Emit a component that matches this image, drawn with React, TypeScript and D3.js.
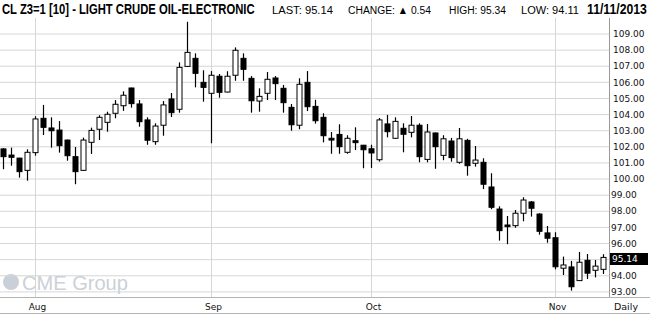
import React, { useLayoutEffect, useRef, useState } from "react";
import * as d3 from "d3";

const dates: string[] = [
  "07-26","07-29","07-30","07-31",
  "08-01","08-02","08-05","08-06","08-07","08-08","08-09","08-12","08-13","08-14","08-15","08-16",
  "08-19","08-20","08-21","08-22","08-23","08-26","08-27","08-28","08-29","08-30",
  "09-03","09-04","09-05","09-06","09-09","09-10","09-11","09-12","09-13","09-16","09-17","09-18","09-19","09-20",
  "09-23","09-24","09-25","09-26","09-27","09-30",
  "10-01","10-02","10-03","10-04","10-07","10-08","10-09","10-10","10-11","10-14","10-15","10-16","10-17","10-18",
  "10-21","10-22","10-23","10-24","10-25","10-28","10-29","10-30","10-31",
  "11-01","11-04","11-05","11-06","11-07","11-08","11-11",
];

const opens: number[] = [
  101.87,101.49,101.30,100.54,
  101.64,103.77,103.17,103.04,102.42,101.39,100.54,102.28,103.09,103.52,104.08,104.55,
  105.65,104.66,103.67,102.32,103.34,104.97,104.33,106.99,107.49,106.00,
  105.32,106.38,105.40,106.44,107.49,106.25,104.84,105.32,106.27,105.63,104.45,103.34,106.00,104.51,
  103.83,102.53,102.77,101.66,102.38,102.10,
  101.88,101.20,103.42,102.53,103.15,102.90,103.34,101.22,102.86,101.47,102.36,101.04,102.40,100.98,
  101.04,99.51,98.14,97.15,97.11,97.88,98.58,97.83,96.66,
  96.36,94.47,94.55,93.70,94.96,94.34,94.40,
];
const highs: number[] = [
  101.92,101.95,101.32,101.85,
  103.90,104.60,103.83,103.60,102.45,101.99,102.57,103.19,103.96,104.18,104.90,105.44,
  105.67,104.90,103.83,103.46,104.84,105.34,107.24,109.76,107.80,106.75,
  106.70,106.52,106.69,108.17,107.80,106.39,105.63,106.64,106.39,105.84,104.66,106.25,106.70,104.92,
  104.08,102.92,103.40,102.72,103.21,102.12,
  102.13,103.79,103.98,103.83,103.46,103.91,103.46,103.42,102.88,102.72,102.55,103.17,102.50,102.05,
  101.29,100.36,98.31,97.71,98.08,98.87,98.64,97.88,97.09,
  96.70,95.19,94.92,95.48,95.35,94.98,95.34,
];
const lows: number[] = [
  100.61,100.83,100.09,99.90,
  101.45,102.73,101.95,101.64,101.14,99.68,100.50,101.56,102.42,102.94,103.77,104.23,
  104.43,103.25,102.13,102.13,102.69,103.85,104.12,106.95,105.69,104.80,
  102.22,105.05,105.38,106.10,106.10,104.12,104.18,104.90,104.90,104.12,103.00,103.09,104.22,103.44,
  102.28,101.57,101.57,101.57,101.80,100.67,
  100.69,101.08,102.59,102.50,101.66,102.59,101.04,101.04,100.64,101.17,101.08,100.95,100.21,100.77,
  99.38,98.13,96.18,95.96,96.98,97.38,97.67,96.55,96.05,
  94.40,94.05,93.08,93.70,93.80,93.90,94.11,
];
const closes: number[] = [
  101.39,101.35,100.46,101.66,
  103.73,103.21,103.00,102.07,101.45,100.46,102.42,103.02,103.83,104.02,104.64,105.20,
  104.68,103.56,102.41,103.29,104.60,104.12,106.93,107.86,106.56,105.69,
  106.44,105.38,106.38,107.99,106.81,104.86,105.13,106.19,105.92,104.74,103.37,105.88,104.49,103.62,
  102.69,102.42,102.01,102.53,102.26,101.82,
  101.62,103.67,102.94,103.58,102.78,103.34,101.39,102.92,102.01,102.50,101.33,102.50,100.83,101.18,
  99.68,98.25,96.80,97.05,97.88,98.70,98.19,96.76,96.33,
  94.56,94.67,93.32,94.84,94.16,94.60,95.14,
];

const priceTicks: number[] = [93,94,95,96,97,98,99,100,101,102,103,104,105,106,107,108,109];
const monthTicks: string[] = ["08-01","09-03","10-01","11-01"];
const monthLabels: string[] = ["Aug","Sep","Oct","Nov"];

const title = "CL Z3=1 [10] - LIGHT CRUDE OIL-ELECTRONIC";
const lastPrice = 95.14;
const change = 0.54;
const highPrice = 95.34;
const lowPrice = 94.11;
const dateLabel = "11/11/2013";

function FitText(props: { x: number; y: number; width: number; size: number; bold?: boolean; family: string; fill: string; children: string }) {
  const ref = useRef<SVGTextElement>(null);
  const [sx, setSx] = useState(1);
  useLayoutEffect(() => {
    if (ref.current) {
      const w = ref.current.getComputedTextLength();
      if (w > 0) setSx(props.width / w);
    }
  }, [props.width, props.children]);
  return (
    <text
      ref={ref}
      transform={`translate(${props.x},${props.y}) scale(${sx},1)`}
      fontFamily={props.family}
      fontWeight={props.bold ? "bold" : "normal"}
      fontSize={props.size}
      fill={props.fill}
    >
      {props.children}
    </text>
  );
}

export default function App() {
  const W = 650, H = 314;
  const plotRight = 609.5;
  const plotTop = 18;
  const plotBottom = 297.5;

  const x = d3.scaleBand<string>().domain(dates).range([-0.5, 607.5]);
  const y = d3.scaleLinear().domain([93, 109]).range([291.9, 34]);
  const cx = (d: string) => (x(d) as number) + x.bandwidth() / 2;

  const fmt = d3.format(".2f");
  const axisFont = "'DejaVu Sans', Verdana, sans-serif";
  const headFont = "'Liberation Sans', Arial, sans-serif";

  return (
    <svg width={W} height={H} style={{ position: "absolute", left: 0, top: 0, background: "#fff" }}>
      <rect x={0} y={0} width={W} height={H} fill="#fff" />
      {/* watermark */}
      <circle cx={11} cy={282} r={8} fill="#c9d0d7" />
      <FitText x={22} y={290} width={106} size={21} family="'Liberation Sans', Arial, sans-serif" fill="#cbd1d7">CME Group</FitText>
      {/* horizontal gridlines */}
      {priceTicks.map((p) => (
        <line key={"h" + p} x1={0} x2={plotRight} y1={y(p)} y2={y(p)} stroke="#d6d6d6" strokeWidth={1} />
      ))}
      {/* vertical month gridlines */}
      {monthTicks.map((m) => (
        <line key={"v" + m} x1={cx(m)} x2={cx(m)} y1={plotTop} y2={plotBottom} stroke="#d6d6d6" strokeWidth={1} />
      ))}
      {/* frame lines */}
      <line x1={plotRight} x2={plotRight} y1={plotTop} y2={plotBottom} stroke="#9a9a9a" strokeWidth={1} />
      <line x1={0} x2={W} y1={plotBottom} y2={plotBottom} stroke="#b4b4b4" strokeWidth={1} />
      <line x1={0} x2={W} y1={313.5} y2={313.5} stroke="#b4b4b4" strokeWidth={1} />
      {/* candles */}
      {dates.map((d, i) => {
        const o = opens[i], c = closes[i], h = highs[i], l = lows[i];
        const up = c >= o;
        const top = y(Math.max(o, c));
        const bh = Math.max(1, Math.abs(y(o) - y(c)));
        const X = cx(d);
        return (
          <g key={d}>
            <line x1={X} x2={X} y1={y(h)} y2={y(l)} stroke="#000" strokeWidth={1.2} />
            <rect x={X - 2.5} y={top} width={5} height={bh} fill={up ? "#fff" : "#000"} stroke="#000" strokeWidth={1} />
          </g>
        );
      })}
      {/* right axis labels */}
      {priceTicks.filter((p) => p !== 95).map((p) => (
        <text key={"t" + p} x={p >= 100 ? 613 : 611} y={y(p)} dy="0.35em" fontFamily={axisFont} fontSize={9} fill="#111">{fmt(p)}</text>
      ))}
      <rect x={610} y={253} width={38} height={12} fill="#000" />
      <text x={612} y={259} dy="0.35em" fontFamily={axisFont} fontSize={9} fill="#fff">{fmt(lastPrice)}</text>
      {/* month labels */}
      {monthTicks.map((m, i) => (
        <text key={"m" + m} x={cx(m) + 2} y={310} textAnchor="middle" fontFamily={axisFont} fontSize={9} fill="#111">{monthLabels[i]}</text>
      ))}
      <text x={626} y={310} textAnchor="middle" fontFamily={axisFont} fontSize={9.5} fill="#111">Daily</text>
      {/* header */}
      <FitText x={2} y={14} width={253} size={14} bold family={headFont} fill="#000">{title}</FitText>
      <FitText x={272} y={14} width={61} size={11} family={headFont} fill="#000">{"LAST: " + fmt(lastPrice)}</FitText>
      <FitText x={348} y={14} width={83} size={11} family={headFont} fill="#000">{"CHANGE: \u25B2 " + fmt(change)}</FitText>
      <FitText x={449} y={14} width={57} size={11} family={headFont} fill="#000">{"HIGH: " + fmt(highPrice)}</FitText>
      <FitText x={521} y={14} width={58} size={11} family={headFont} fill="#000">{"LOW: " + fmt(lowPrice)}</FitText>
      <FitText x={587} y={14} width={60} size={14} bold family={headFont} fill="#000">{dateLabel}</FitText>
    </svg>
  );
}
